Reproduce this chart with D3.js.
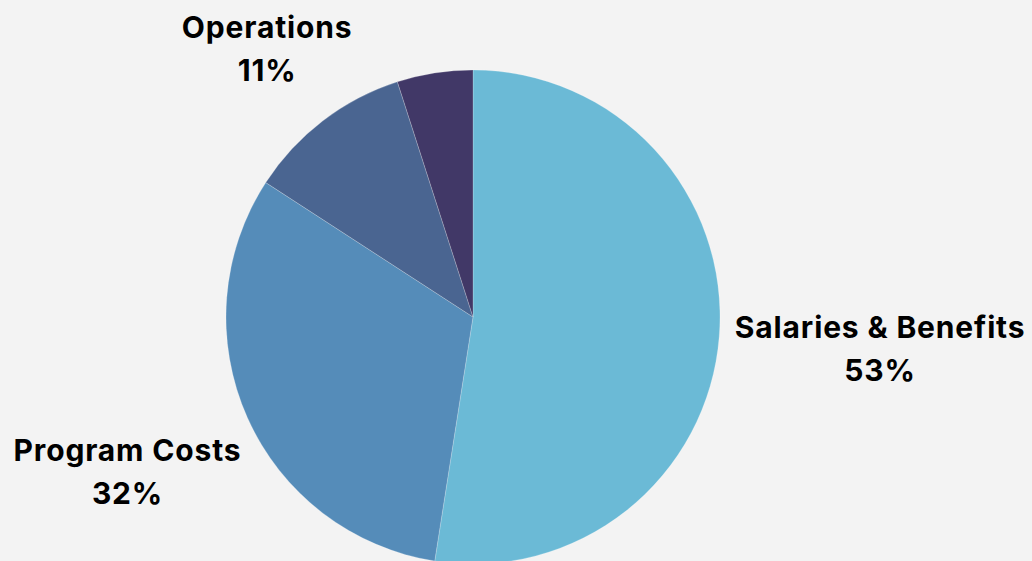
<!DOCTYPE html>
<html>
<head>
<meta charset="utf-8">
<script src="https://cdn.jsdelivr.net/npm/d3@7"></script>
<style>
    body { margin: 0; background: #f3f3f3; }
    svg { display: block; }
    .label { font-family: Inter, "Noto Sans", sans-serif; font-weight: 700; font-size: 30px; letter-spacing: 0.85px; fill: #000; }
</style>
</head>
<body>
<script>
// slice data, clockwise from 12 o'clock
var categories = ["Salaries & Benefits", "Program Costs", "Operations", "Other"];
var values = [53, 32, 11, 5];
var pctLabels = ["53%", "32%", "11%", ""];
var colors = ["#6bbad6", "#558cb9", "#4a6591", "#413867"];

window.onload = function () {

    var w = 1032, h = 561;
    var cx = 473, cy = 317, r = 247;

    var svg = d3.select("body")
        .append("svg")
        .attr("width", w)
        .attr("height", h)
        .style("background-color", "#f3f3f3");

    var g = svg.append("g")
        .attr("transform", "translate(" + cx + "," + cy + ")");

    var pie = d3.pie()
        .sort(null)
        .value(function (d) { return d; });

    var arcs = pie(values);

    var arc = d3.arc()
        .innerRadius(0)
        .outerRadius(r);

    g.selectAll(".slice")
        .data(arcs)
        .enter()
        .append("path")
        .attr("class", "slice")
        .attr("d", arc)
        .style("fill", function (d, i) { return colors[i]; })
        .style("stroke", "rgba(255,255,255,0.35)")
        .style("stroke-width", 0.6);

    // labels sit outside the pie along each slice's mid angle
    var lineGap = 43;
    var labels = g.selectAll(".label")
        .data(arcs.filter(function (d, i) { return pctLabels[i] !== ""; }))
        .enter()
        .append("text")
        .attr("class", "label")
        .attr("text-anchor", "middle");

    labels.append("tspan")
        .attr("x", 0)
        .attr("y", 0)
        .text(function (d) { return categories[d.index]; });

    labels.append("tspan")
        .attr("x", 0)
        .attr("y", lineGap)
        .text(function (d) { return pctLabels[d.index]; });

    labels.each(function (d) {
        var t = d3.select(this);
        var bw = this.getBBox().width;
        var capH = 22;
        var bh = lineGap + capH; // cap top of line 1 to baseline of line 2
        var mid = (d.startAngle + d.endAngle) / 2;
        var dx = Math.sin(mid), dy = -Math.cos(mid);
        var dist = r + 14 + Math.abs(dx) * bw / 2 + Math.abs(dy) * bh / 2;
        var x = dx * dist;
        var y = dy * dist - bh / 2 + capH;
        t.attr("transform", "translate(" + x + "," + y + ")");
    });
};
</script>
</body>
</html>
